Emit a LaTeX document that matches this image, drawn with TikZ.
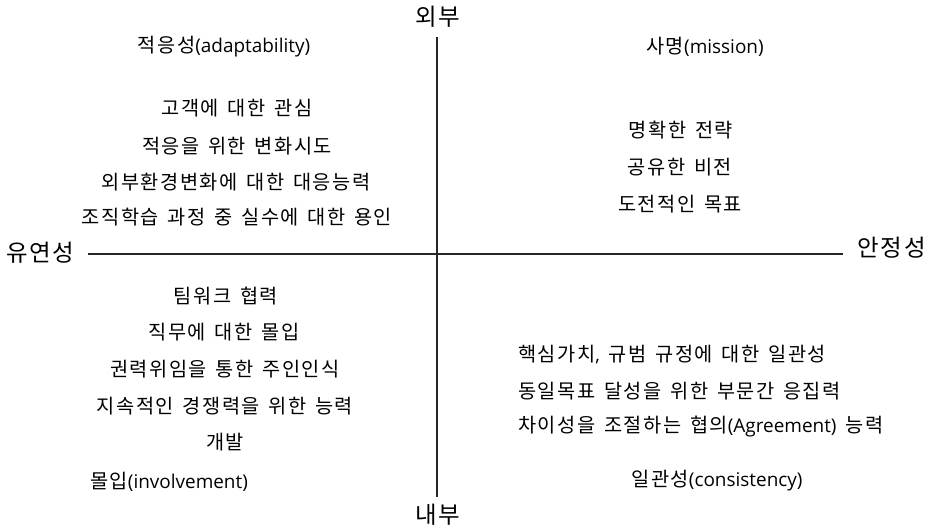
\documentclass[tikz,border=0pt]{standalone}
\usepackage{fontspec}
\setmainfont{Noto Sans CJK KR}[LetterSpace=7.5,WordSpace=1.5]
\newfontfamily\latfont{Open Sans}
\newcommand{\lat}[1]{{\latfont\fontsize{14.2pt}{16pt}\selectfont #1}}
\begin{document}
\begin{tikzpicture}[x=0.75pt,y=-0.75pt,
  txt/.style={inner sep=0pt,font=\fontsize{14.8pt}{16pt}\selectfont},
  axlab/.style={inner sep=0pt,font=\fontsize{17.6pt}{19pt}\selectfont},
  axis/.style={line width=1.1pt,black!85}]
\useasboundingbox (0,0) rectangle (930,531);
% axes labels
\node[axlab] (out) at (438,17) {외부};
\node[axlab] (in) at (438,515) {내부};
\node[axlab,anchor=west] (flex) at (6,253) {유연성};
\node[axlab,anchor=east] (stab) at (926,248) {안정성};
\coordinate (vt) at (437,37);
\coordinate (vb) at (437,497);
\coordinate (hl) at (88,254);
\coordinate (hr) at (843,254);
\draw[axis] (vt) -- (vb);
\draw[axis] (hl) -- (hr);
% top-left
\node[txt] (adapt) at (224,47) {적응성\lat{(adaptability)}};
\node[txt] (a1) at (237,108) {고객에 대한 관심};
\node[txt] (a2) at (237,146) {적응을 위한 변화시도};
\node[txt] (a3) at (236,182) {외부환경변화에 대한 대응능력};
\node[txt] (a4) at (237,217) {조직학습 과정 중 실수에 대한 용인};
% top-right
\node[txt] (mission) at (705,47) {사명\lat{(mission)}};
\node[txt] (m1) at (681,130) {명확한 전략};
\node[txt] (m2) at (680,167) {공유한 비전};
\node[txt] (m3) at (680,204) {도전적인 목표};
% bottom-left
\node[txt] (i1) at (226,296) {팀워크 협력};
\node[txt] (i2) at (224,332) {직무에 대한 몰입};
\node[txt] (i3) at (225,369) {권력위임을 통한 주인인식};
\node[txt] (i4) at (225,406) {지속적인 경쟁력을 위한 능력};
\node[txt] (i5) at (225,442) {개발};
\node[txt] (invol) at (169,482) {몰입\lat{(involvement)}};
% bottom-right
\node[txt,anchor=west] (c1) at (518,355) {핵심가치\lat{,} 규범 규정에 대한 일관성};
\node[txt,anchor=west] (c2) at (518,391) {동일목표 달성을 위한 부문간 응집력};
\node[txt,anchor=west] (c3) at (518,427) {차이성을 조절하는 협의\lat{(Agreement)} 능력};
\node[txt] (consist) at (717,481) {일관성\lat{(consistency)}};
\end{tikzpicture}
\end{document}
